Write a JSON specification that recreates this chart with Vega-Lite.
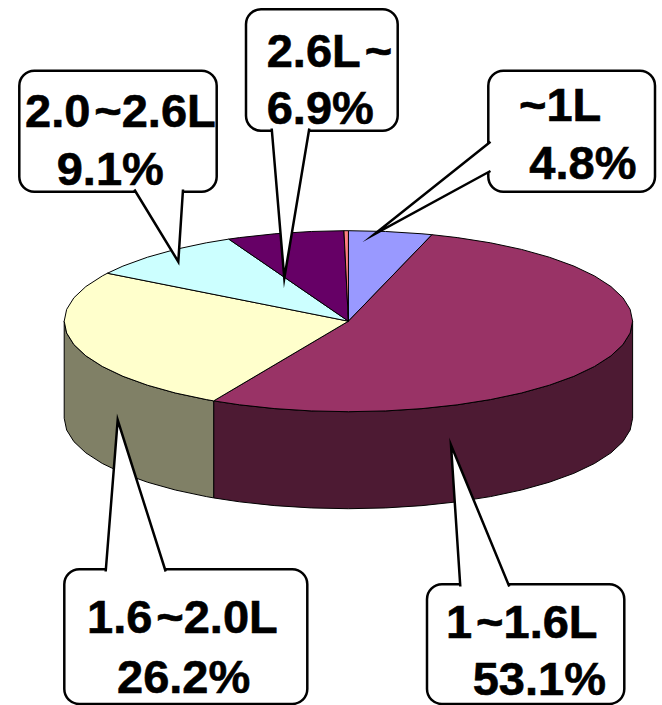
{"$schema":"https://vega.github.io/schema/vega-lite/v6.json","width":662,"height":705,"padding":0,"autosize":"none","background":"white","config":{"view":{"stroke":null}},"datasets":{"pie":[
{"piece":"1~1.6L side","u":1,"v":0},{"piece":"1~1.6L side","u":0.9914,"v":-0.1305},{"piece":"1~1.6L side","u":0.9659,"v":-0.2588},{"piece":"1~1.6L side","u":0.9239,"v":-0.3827},{"piece":"1~1.6L side","u":0.866,"v":-0.5},{"piece":"1~1.6L side","u":0.7934,"v":-0.6088},{"piece":"1~1.6L side","u":0.7071,"v":-0.7071},{"piece":"1~1.6L side","u":0.6088,"v":-0.7934},{"piece":"1~1.6L side","u":0.5,"v":-0.866},{"piece":"1~1.6L side","u":0.3827,"v":-0.9239},{"piece":"1~1.6L side","u":0.2588,"v":-0.9659},{"piece":"1~1.6L side","u":0.1305,"v":-0.9914},{"piece":"1~1.6L side","u":0,"v":-1},{"piece":"1~1.6L side","u":-0.1305,"v":-0.9914},{"piece":"1~1.6L side","u":-0.2588,"v":-0.9659},{"piece":"1~1.6L side","u":-0.3827,"v":-0.9239},{"piece":"1~1.6L side","u":-0.4741,"v":-0.8805},{"piece":"1~1.6L side","u":-0.4741,"v":-1.9525},{"piece":"1~1.6L side","u":-0.3827,"v":-1.9959},{"piece":"1~1.6L side","u":-0.2588,"v":-2.0379},{"piece":"1~1.6L side","u":-0.1305,"v":-2.0634},{"piece":"1~1.6L side","u":0,"v":-2.072},{"piece":"1~1.6L side","u":0.1305,"v":-2.0634},{"piece":"1~1.6L side","u":0.2588,"v":-2.0379},{"piece":"1~1.6L side","u":0.3827,"v":-1.9959},{"piece":"1~1.6L side","u":0.5,"v":-1.938},{"piece":"1~1.6L side","u":0.6088,"v":-1.8654},{"piece":"1~1.6L side","u":0.7071,"v":-1.7791},{"piece":"1~1.6L side","u":0.7934,"v":-1.6808},{"piece":"1~1.6L side","u":0.866,"v":-1.572},{"piece":"1~1.6L side","u":0.9239,"v":-1.4547},{"piece":"1~1.6L side","u":0.9659,"v":-1.3308},{"piece":"1~1.6L side","u":0.9914,"v":-1.2025},{"piece":"1~1.6L side","u":1,"v":-1.072},{"piece":"1~1.6L side","u":1,"v":0},
{"piece":"1.6~2.0L side","u":-0.4741,"v":-0.8805},{"piece":"1.6~2.0L side","u":-0.5,"v":-0.866},{"piece":"1.6~2.0L side","u":-0.6088,"v":-0.7934},{"piece":"1.6~2.0L side","u":-0.7071,"v":-0.7071},{"piece":"1.6~2.0L side","u":-0.7934,"v":-0.6088},{"piece":"1.6~2.0L side","u":-0.866,"v":-0.5},{"piece":"1.6~2.0L side","u":-0.9239,"v":-0.3827},{"piece":"1.6~2.0L side","u":-0.9659,"v":-0.2588},{"piece":"1.6~2.0L side","u":-0.9914,"v":-0.1305},{"piece":"1.6~2.0L side","u":-1,"v":0},{"piece":"1.6~2.0L side","u":-1,"v":-1.072},{"piece":"1.6~2.0L side","u":-0.9914,"v":-1.2025},{"piece":"1.6~2.0L side","u":-0.9659,"v":-1.3308},{"piece":"1.6~2.0L side","u":-0.9239,"v":-1.4547},{"piece":"1.6~2.0L side","u":-0.866,"v":-1.572},{"piece":"1.6~2.0L side","u":-0.7934,"v":-1.6808},{"piece":"1.6~2.0L side","u":-0.7071,"v":-1.7791},{"piece":"1.6~2.0L side","u":-0.6088,"v":-1.8654},{"piece":"1.6~2.0L side","u":-0.5,"v":-1.938},{"piece":"1.6~2.0L side","u":-0.4741,"v":-1.9525},{"piece":"1.6~2.0L side","u":-0.4741,"v":-0.8805},
{"piece":"~1L top","u":0,"v":0},{"piece":"~1L top","u":0,"v":1},{"piece":"~1L top","u":0.1305,"v":0.9914},{"piece":"~1L top","u":0.2588,"v":0.9659},{"piece":"~1L top","u":0.294,"v":0.9558},{"piece":"~1L top","u":0,"v":0},
{"piece":"1~1.6L top","u":0,"v":0},{"piece":"1~1.6L top","u":0.294,"v":0.9558},{"piece":"1~1.6L top","u":0.3827,"v":0.9239},{"piece":"1~1.6L top","u":0.5,"v":0.866},{"piece":"1~1.6L top","u":0.6088,"v":0.7934},{"piece":"1~1.6L top","u":0.7071,"v":0.7071},{"piece":"1~1.6L top","u":0.7934,"v":0.6088},{"piece":"1~1.6L top","u":0.866,"v":0.5},{"piece":"1~1.6L top","u":0.9239,"v":0.3827},{"piece":"1~1.6L top","u":0.9659,"v":0.2588},{"piece":"1~1.6L top","u":0.9914,"v":0.1305},{"piece":"1~1.6L top","u":1,"v":0},{"piece":"1~1.6L top","u":0.9914,"v":-0.1305},{"piece":"1~1.6L top","u":0.9659,"v":-0.2588},{"piece":"1~1.6L top","u":0.9239,"v":-0.3827},{"piece":"1~1.6L top","u":0.866,"v":-0.5},{"piece":"1~1.6L top","u":0.7934,"v":-0.6088},{"piece":"1~1.6L top","u":0.7071,"v":-0.7071},{"piece":"1~1.6L top","u":0.6088,"v":-0.7934},{"piece":"1~1.6L top","u":0.5,"v":-0.866},{"piece":"1~1.6L top","u":0.3827,"v":-0.9239},{"piece":"1~1.6L top","u":0.2588,"v":-0.9659},{"piece":"1~1.6L top","u":0.1305,"v":-0.9914},{"piece":"1~1.6L top","u":0,"v":-1},{"piece":"1~1.6L top","u":-0.1305,"v":-0.9914},{"piece":"1~1.6L top","u":-0.2588,"v":-0.9659},{"piece":"1~1.6L top","u":-0.3827,"v":-0.9239},{"piece":"1~1.6L top","u":-0.4741,"v":-0.8805},{"piece":"1~1.6L top","u":0,"v":0},
{"piece":"1.6~2.0L top","u":0,"v":0},{"piece":"1.6~2.0L top","u":-0.4741,"v":-0.8805},{"piece":"1.6~2.0L top","u":-0.5,"v":-0.866},{"piece":"1.6~2.0L top","u":-0.6088,"v":-0.7934},{"piece":"1.6~2.0L top","u":-0.7071,"v":-0.7071},{"piece":"1.6~2.0L top","u":-0.7934,"v":-0.6088},{"piece":"1.6~2.0L top","u":-0.866,"v":-0.5},{"piece":"1.6~2.0L top","u":-0.9239,"v":-0.3827},{"piece":"1.6~2.0L top","u":-0.9659,"v":-0.2588},{"piece":"1.6~2.0L top","u":-0.9914,"v":-0.1305},{"piece":"1.6~2.0L top","u":-1,"v":0},{"piece":"1.6~2.0L top","u":-0.9914,"v":0.1305},{"piece":"1.6~2.0L top","u":-0.9659,"v":0.2588},{"piece":"1.6~2.0L top","u":-0.9239,"v":0.3827},{"piece":"1.6~2.0L top","u":-0.866,"v":0.5},{"piece":"1.6~2.0L top","u":-0.848,"v":0.5299},{"piece":"1.6~2.0L top","u":0,"v":0},
{"piece":"2.0~2.6L top","u":0,"v":0},{"piece":"2.0~2.6L top","u":-0.848,"v":0.5299},{"piece":"2.0~2.6L top","u":-0.7934,"v":0.6088},{"piece":"2.0~2.6L top","u":-0.7071,"v":0.7071},{"piece":"2.0~2.6L top","u":-0.6088,"v":0.7934},{"piece":"2.0~2.6L top","u":-0.5,"v":0.866},{"piece":"2.0~2.6L top","u":-0.421,"v":0.907},{"piece":"2.0~2.6L top","u":0,"v":0},
{"piece":"2.6L~ top","u":0,"v":0},{"piece":"2.6L~ top","u":-0.421,"v":0.907},{"piece":"2.6L~ top","u":-0.3827,"v":0.9239},{"piece":"2.6L~ top","u":-0.2588,"v":0.9659},{"piece":"2.6L~ top","u":-0.1305,"v":0.9914},{"piece":"2.6L~ top","u":-0.0157,"v":0.9999},{"piece":"2.6L~ top","u":0,"v":0},
{"piece":"other top","u":0,"v":0},{"piece":"other top","u":-0.0157,"v":0.9999},{"piece":"other top","u":0,"v":1},{"piece":"other top","u":0,"v":0}
],
"boxes":[
{"name":"2.0~2.6L","x0":19.3,"x1":216.7,"y0":70.7,"y1":191.7},
{"name":"2.6L~","x0":246,"x1":397.7,"y0":9.3,"y1":130.7},
{"name":"~1L","x0":488.3,"x1":655,"y0":70.7,"y1":191.7},
{"name":"1.6~2.0L","x0":64.3,"x1":307.3,"y0":569.3,"y1":704},
{"name":"1~1.6L","x0":427,"x1":624.3,"y0":584.3,"y1":704}
],
"tails":[
{"name":"2.0~2.6L","x":134.3,"y":189.5},{"name":"2.0~2.6L","x":178.3,"y":261.7},{"name":"2.0~2.6L","x":183,"y":189.5},
{"name":"2.6L~","x":271.7,"y":128.5},{"name":"2.6L~","x":284.3,"y":278.3},{"name":"2.6L~","x":309.3,"y":128.5},
{"name":"~1L","x":490.5,"y":141.7},{"name":"~1L","x":374.3,"y":234.3},{"name":"~1L","x":490.5,"y":171},
{"name":"1.6~2.0L","x":105.7,"y":571.5},{"name":"1.6~2.0L","x":117.7,"y":420},{"name":"1.6~2.0L","x":165.7,"y":571.5},
{"name":"1~1.6L","x":460.3,"y":586.5},{"name":"1~1.6L","x":451,"y":445},{"name":"1~1.6L","x":509.3,"y":586.5}
],
"labels":[
{"line":"2.0\u200a~2.6L","x":25,"y":127.3},{"line":"9.1%","x":56.7,"y":185},
{"line":"2.6L\u200a~","x":266.7,"y":66.7},{"line":"6.9%","x":266.7,"y":124},
{"line":"~1L","x":519,"y":120.7},{"line":"4.8%","x":529.3,"y":179},
{"line":"1.6\u200a~2.0L","x":87,"y":633},{"line":"26.2%","x":117,"y":692.7},
{"line":"1\u200a~1.6L","x":446,"y":637.7},{"line":"53.1%","x":472.7,"y":695}
]},
"layer":[
{"data":{"name":"pie"},"mark":{"type":"line","stroke":"black","strokeWidth":1,"strokeJoin":"round"},"encoding":{
"x":{"field":"u","type":"quantitative","axis":null,"scale":{"domain":[-1.2259,1.1034],"nice":false,"zero":false}},
"y":{"field":"v","type":"quantitative","axis":null,"scale":{"domain":[-4.2409,3.5492],"nice":false,"zero":false}},
"fill":{"field":"piece","type":"nominal","legend":null,"scale":{"domain":["1~1.6L side","1.6~2.0L side","~1L top","1~1.6L top","1.6~2.0L top","2.0~2.6L top","2.6L~ top","other top"],"range":["#4D1A33","#808066","#9999FF","#993366","#FFFFCC","#CCFFFF","#660066","#FF8080"]}},
"detail":{"field":"piece"},
"order":{"value":null}}},
{"layer":[
{"data":{"name":"boxes"},"mark":{"type":"rect","fill":"white","stroke":"black","strokeWidth":2.5,"cornerRadius":15},"encoding":{
"x":{"field":"x0","type":"quantitative","axis":null,"scale":{"domain":[0,662],"nice":false,"zero":false}},"x2":{"field":"x1"},
"y":{"field":"y0","type":"quantitative","axis":null,"scale":{"domain":[705,0],"nice":false,"zero":false}},"y2":{"field":"y1"}}},
{"data":{"name":"tails"},"mark":{"type":"line","fill":"white","stroke":"black","strokeWidth":2.5,"strokeJoin":"miter","strokeMiterLimit":20},"encoding":{
"x":{"field":"x","type":"quantitative"},"y":{"field":"y","type":"quantitative"},"detail":{"field":"name"},"order":{"value":null}}},
{"data":{"name":"labels"},"mark":{"type":"text","font":"Liberation Sans","fontWeight":"bold","fontSize":47,"align":"left","baseline":"alphabetic","fill":"black","stroke":"black","strokeWidth":0.6},"encoding":{
"x":{"field":"x","type":"quantitative"},"y":{"field":"y","type":"quantitative"},"text":{"field":"line"}}}
]}
],"resolve":{"scale":{"x":"independent","y":"independent"}}}
